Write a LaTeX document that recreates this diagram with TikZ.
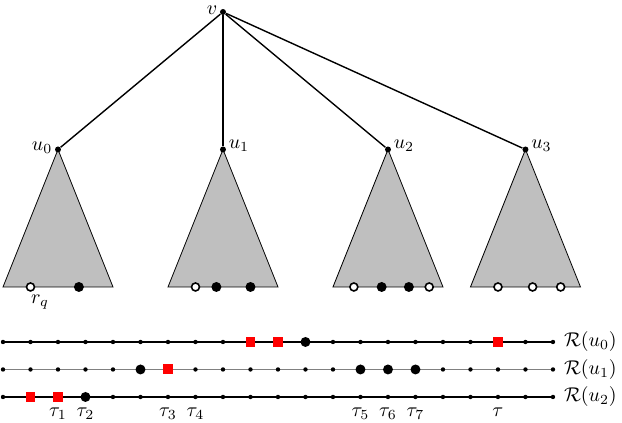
\documentclass[tikz,border=0pt]{standalone}
\begin{document}
\begin{tikzpicture}[x=0.485cm,y=0.485cm,
  vtx/.style={circle,fill=black,inner sep=0pt,minimum size=3pt},
  sdot/.style={circle,fill=black,inner sep=0pt,minimum size=2.2pt},
  bdot/.style={circle,fill=black,inner sep=0pt,minimum size=5pt},
  odot/.style={circle,draw=black,line width=0.8pt,fill=white,inner sep=0pt,minimum size=4pt},
  rsq/.style={rectangle,fill=red,inner sep=0pt,minimum size=5pt},
  treeedge/.style={line width=0.7pt},
  subtree/.style={draw=black,fill=gray!50,line width=0.4pt},
  rowline/.style={line width=0.6pt},
  lbl/.style={inner sep=1pt}]
\useasboundingbox (-0.109,-0.945) rectangle (22.51,14.436);
% subtrees
\draw[subtree] (2,9) -- (0,4) -- (4,4) -- cycle;
\draw[subtree] (8,9) -- (6,4) -- (10,4) -- cycle;
\draw[subtree] (14,9) -- (12,4) -- (16,4) -- cycle;
\draw[subtree] (19,9) -- (17,4) -- (21,4) -- cycle;
% vertices
\node[vtx,label={[lbl,yshift=1pt]left:$v$}] (v) at (8,14) {};
\node[vtx,label={[lbl,yshift=1pt]left:$u_0$}] (u0) at (2,9) {};
\node[vtx,label={[lbl,yshift=2pt]right:$u_1$}] (u1) at (8,9) {};
\node[vtx,label={[lbl,yshift=2pt]right:$u_2$}] (u2) at (14,9) {};
\node[vtx,label={[lbl,yshift=2pt]right:$u_3$}] (u3) at (19,9) {};
\foreach \i in {0,1,2,3} \draw[treeedge] (v) -- (u\i);
% leaves
\node[odot] (l0a) at (1,4) {};
\node[bdot] (l0b) at (2.76,4) {};
\node[lbl,anchor=center] (rq) at (1.35,3.45) {$r_q$};
\node[odot] (l1a) at (7,4) {};
\node[bdot] (l1b) at (7.76,4) {};
\node[bdot] (l1c) at (9,4) {};
\node[odot] (l2a) at (12.76,4) {};
\node[bdot] (l2b) at (13.77,4) {};
\node[bdot] (l2c) at (14.76,4) {};
\node[odot] (l2d) at (15.5,4) {};
\node[odot] (l3a) at (18,4) {};
\node[odot] (l3b) at (19.26,4) {};
\node[odot] (l3c) at (20.28,4) {};
% rows
\coordinate (a0) at (0,2); \coordinate (b0) at (20,2);
\coordinate (a1) at (0,1); \coordinate (b1) at (20,1);
\coordinate (a2) at (0,0); \coordinate (b2) at (20,0);
\draw[rowline] (a0) -- (b0);
\draw[rowline,gray] (a1) -- (b1);
\draw[rowline] (a2) -- (b2);
\foreach \r/\y in {0/2,1/1,2/0}{
  \foreach \i in {0,...,20} \node[sdot] (d\r-\i) at (\i,\y) {};
}
\foreach \i in {9,10,18} \node[rsq] at (d0-\i) {};
\node[bdot] at (d0-11) {};
\foreach \i in {5,13,14,15} \node[bdot] at (d1-\i) {};
\node[rsq] at (d1-6) {};
\foreach \i in {1,2} \node[rsq] at (d2-\i) {};
\node[bdot] at (d2-3) {};
\node[right,xshift=2pt] (R0) at (b0) {$\mathcal{R}(u_0)$};
\node[right,xshift=2pt] (R1) at (b1) {$\mathcal{R}(u_1)$};
\node[right,xshift=2pt] (R2) at (b2) {$\mathcal{R}(u_2)$};
\foreach \i/\t in {2/\tau_1,3/\tau_2,6/\tau_3,7/\tau_4,13/\tau_5,14/\tau_6,15/\tau_7,18/\tau}
  \node[below=2pt] at (d2-\i) {$\t$};
\end{tikzpicture}
\end{document}
